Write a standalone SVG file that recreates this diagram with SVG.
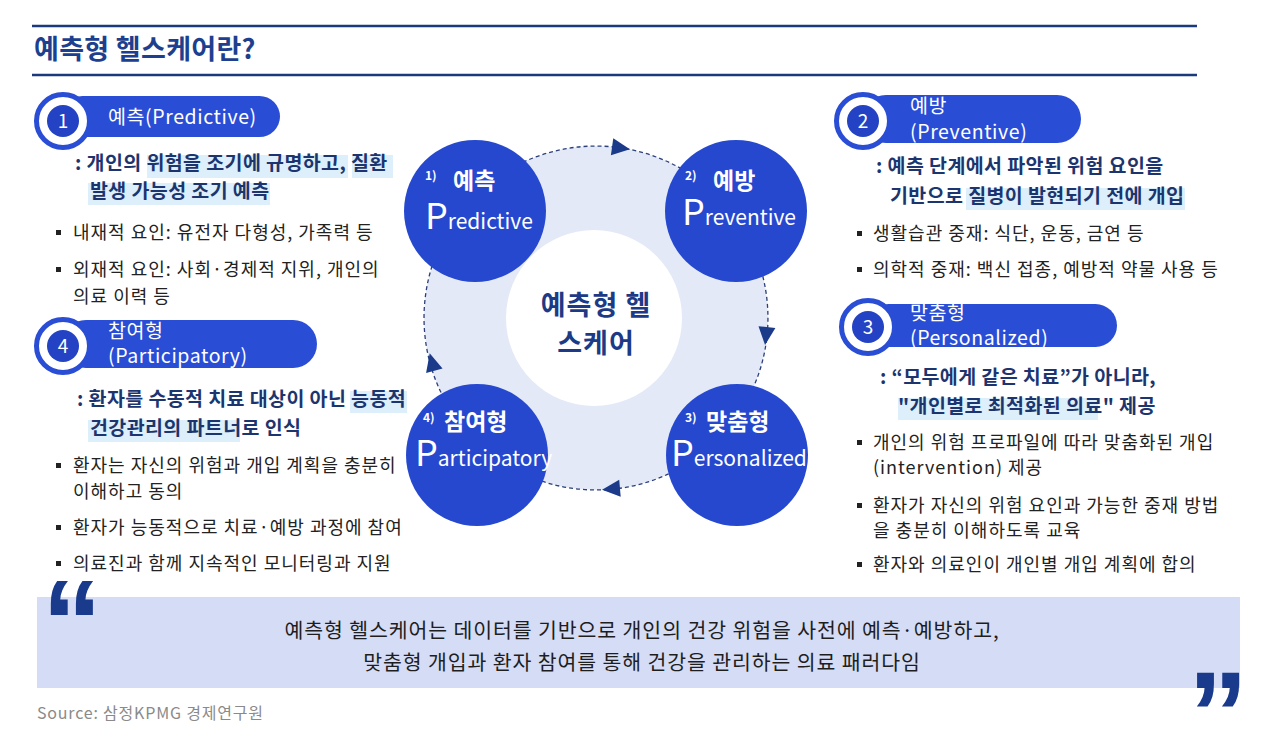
<svg xmlns="http://www.w3.org/2000/svg" width="1280" height="736" viewBox="0 0 1280 736">
<style>
text{font-family:"Noto Sans CJK KR","Noto Sans",sans-serif}
.title{font-size:27px;font-weight:700;fill:#1d3f8f;letter-spacing:0.3px}
.rule{stroke:#1b3a7c;stroke-width:2.5}
.pill{fill:#2a4dd5}
.ring{fill:#fff;stroke:#2a4dd5;stroke-width:5}
.disk{fill:#2343c4}
.num{font-size:19px;fill:#fff;text-anchor:middle}
.ptxt{font-size:19.5px;fill:#fff;letter-spacing:0.6px}
.desc{font-size:19.5px;font-weight:700;fill:#1c356e;letter-spacing:0.4px}
.hl{fill:#dceffa}
.bul{font-size:18px;fill:#222;letter-spacing:1px}
.sq{fill:#222}
.big{fill:#2548cf}
.ck{font-weight:700;fill:#fff}
.ctr{font-size:27px;font-weight:700;fill:#1c3a85;text-anchor:middle;letter-spacing:1px}
.dash{fill:none;stroke:#2b3f7a;stroke-width:1.3;stroke-dasharray:4 3}
.ah{fill:#1b3a8a}
.qt{font-size:20.5px;fill:#1e1e1e;text-anchor:middle;letter-spacing:0.9px}
.qm{font-family:"Liberation Sans",Arial,sans-serif;font-size:120px;font-weight:700;fill:#1a3a8c}
</style>

<!-- header -->
<line class="rule" x1="32" y1="26" x2="1197" y2="26"/>
<text class="title" x="34" y="59">예측형 헬스케어란?</text>
<line class="rule" x1="32" y1="75" x2="1197" y2="75"/>

<!-- background ring of the cycle -->
<circle cx="596" cy="318" r="172" fill="#e4e9f8"/>

<!-- connectors -->
<g id="connectors">
  <path class="dash" d="M467.2,204 A172,172 0 0 1 732.6,213.6"/>
  <path class="dash" d="M732.6,213.6 A172,172 0 0 1 719.7,437.5"/>
  <path class="dash" d="M719.7,437.5 A172,172 0 0 1 483.2,447.8"/>
  <path class="dash" d="M483.2,447.8 A172,172 0 0 1 467.2,204"/>
  <polygon class="ah" points="9,0 -9,-8.5 -9,8.5" transform="translate(621,148) rotate(8)"/>
  <polygon class="ah" points="9,0 -9,-8.5 -9,8.5" transform="translate(766,336) rotate(96)"/>
  <polygon class="ah" points="9,0 -9,-8.5 -9,8.5" transform="translate(611,489) rotate(175)"/>
  <polygon class="ah" points="9,0 -9,-8.5 -9,8.5" transform="translate(432,362) rotate(255)"/>
</g>

<!-- center -->
<g id="center">
  <circle cx="594" cy="318" r="88" fill="#fff"/>
  <text class="ctr" x="596" y="315">예측형 헬</text>
  <text class="ctr" x="596" y="353">스케어</text>
</g>

<g id="c1">
  <circle class="big" cx="475" cy="211" r="71"/>
  <text class="ck" x="425" y="180" font-size="12" font-weight="400">1)</text>
  <text class="ck" x="453" y="189" font-size="23">예측</text>
  <text x="425" y="229" fill="#fff"><tspan font-size="36">P</tspan><tspan font-size="21">redictive</tspan></text>
</g>
<g id="c2">
  <circle class="big" cx="736" cy="211" r="71"/>
  <text class="ck" x="685" y="180" font-size="12" font-weight="400">2)</text>
  <text class="ck" x="713" y="189" font-size="23">예방</text>
  <text x="682" y="225" fill="#fff"><tspan font-size="36">P</tspan><tspan font-size="21">reventive</tspan></text>
</g>
<g id="c3">
  <circle class="big" cx="737" cy="455" r="71"/>
  <text class="ck" x="685" y="422" font-size="12" font-weight="400">3)</text>
  <text class="ck" x="706" y="430" font-size="23">맞춤형</text>
  <text x="671" y="466" fill="#fff"><tspan font-size="36">P</tspan><tspan font-size="21">ersonalized</tspan></text>
</g>
<g id="c4">
  <circle class="big" cx="477" cy="455" r="71"/>
  <text class="ck" x="423" y="422" font-size="12" font-weight="400">4)</text>
  <text class="ck" x="444" y="430" font-size="23">참여형</text>
  <text x="415" y="466" fill="#fff"><tspan font-size="36">P</tspan><tspan font-size="21">articipatory</tspan></text>
</g>

<!-- 1 Predictive -->
<g id="p1">
  <rect class="pill" x="62" y="96" width="218" height="41" rx="20.5"/>
  <circle class="ring" cx="63" cy="121" r="26.5"/>
  <circle class="disk" cx="63" cy="121" r="16"/>
  <text class="num" x="63" y="127.5">1</text>
  <text class="ptxt" x="108" y="124">예측(Predictive)</text>
  <rect class="hl" x="147" y="155" width="201" height="23"/>
  <rect class="hl" x="352" y="155" width="41" height="23"/>
  <rect class="hl" x="88" y="183" width="182" height="22"/>
  <text class="desc" x="75" y="170">: 개인의 위험을 조기에 규명하고, 질환</text>
  <text class="desc" x="90" y="198">발생 가능성 조기 예측</text>
  <rect class="sq" x="56" y="230" width="5" height="5"/>
  <text class="bul" x="73" y="239">내재적 요인: 유전자 다형성, 가족력 등</text>
  <rect class="sq" x="56" y="267" width="5" height="5"/>
  <text class="bul" x="73" y="276">외재적 요인: 사회·경제적 지위, 개인의</text>
  <text class="bul" x="73" y="303">의료 이력 등</text>
</g>

<!-- 4 Participatory -->
<g id="p4">
  <rect class="pill" x="62" y="320" width="255" height="48" rx="24"/>
  <circle class="ring" cx="63" cy="346" r="26.5"/>
  <circle class="disk" cx="63" cy="346" r="16"/>
  <text class="num" x="63" y="352.5">4</text>
  <text class="ptxt" x="108" y="338">참여형</text>
  <text class="ptxt" x="108" y="363">(Participatory)</text>
  <rect class="hl" x="350" y="391" width="57" height="22"/>
  <rect class="hl" x="88" y="420" width="152" height="22"/>
  <text class="desc" x="77" y="406">: 환자를 수동적 치료 대상이 아닌 능동적</text>
  <text class="desc" x="90" y="435">건강관리의 파트너로 인식</text>
  <rect class="sq" x="56" y="463" width="5" height="5"/>
  <text class="bul" x="73" y="472">환자는 자신의 위험과 개입 계획을 충분히</text>
  <text class="bul" x="73" y="498">이해하고 동의</text>
  <rect class="sq" x="56" y="525" width="5" height="5"/>
  <text class="bul" x="73" y="534">환자가 능동적으로 치료·예방 과정에 참여</text>
  <rect class="sq" x="56" y="561" width="5" height="5"/>
  <text class="bul" x="73" y="570">의료진과 함께 지속적인 모니터링과 지원</text>
</g>

<!-- 2 Preventive -->
<g id="p2">
  <rect class="pill" x="862" y="95" width="219" height="48" rx="24"/>
  <circle class="ring" cx="863" cy="121" r="26.5"/>
  <circle class="disk" cx="863" cy="121" r="16"/>
  <text class="num" x="863" y="127.5">2</text>
  <text class="ptxt" x="910" y="113">예방</text>
  <text class="ptxt" x="910" y="139">(Preventive)</text>
  <rect class="hl" x="966" y="188" width="219" height="22"/>
  <text class="desc" x="876" y="173">: 예측 단계에서 파악된 위험 요인을</text>
  <text class="desc" x="890" y="203">기반으로 질병이 발현되기 전에 개입</text>
  <rect class="sq" x="857" y="231" width="5" height="5"/>
  <text class="bul" x="873" y="240">생활습관 중재: 식단, 운동, 금연 등</text>
  <rect class="sq" x="857" y="267" width="5" height="5"/>
  <text class="bul" x="873" y="276">의학적 중재: 백신 접종, 예방적 약물 사용 등</text>
</g>

<!-- 3 Personalized -->
<g id="p3">
  <rect class="pill" x="867" y="304" width="250" height="43" rx="21.5"/>
  <circle class="ring" cx="868" cy="327" r="26.5"/>
  <circle class="disk" cx="868" cy="327" r="16"/>
  <text class="num" x="868" y="333.5">3</text>
  <text class="ptxt" x="910" y="320">맞춤형</text>
  <text class="ptxt" x="910" y="345">(Personalized)</text>
  <rect class="hl" x="898" y="398" width="200" height="22"/>
  <text class="desc" x="880" y="384">: “모두에게 같은 치료”가 아니라,</text>
  <text class="desc" x="898" y="413">"개인별로 최적화된 의료" 제공</text>
  <rect class="sq" x="857" y="440" width="5" height="5"/>
  <text class="bul" x="873" y="449">개인의 위험 프로파일에 따라 맞춤화된 개입</text>
  <text class="bul" x="873" y="474">(intervention) 제공</text>
  <rect class="sq" x="857" y="503" width="5" height="5"/>
  <text class="bul" x="873" y="512">환자가 자신의 위험 요인과 가능한 중재 방법</text>
  <text class="bul" x="873" y="537">을 충분히 이해하도록 교육</text>
  <rect class="sq" x="857" y="562" width="5" height="5"/>
  <text class="bul" x="873" y="571">환자와 의료인이 개인별 개입 계획에 합의</text>
</g>

<!-- quote box -->
<g id="quote">
  <rect x="37" y="597" width="1203" height="91" fill="#d5dcf5"/>
  <text class="qm" x="42" y="664">“</text>
  <text class="qm" x="1188" y="756">”</text>
  <text class="qt" x="642" y="638">예측형 헬스케어는 데이터를 기반으로 개인의 건강 위험을 사전에 예측·예방하고,</text>
  <text class="qt" x="642" y="670">맞춤형 개입과 환자 참여를 통해 건강을 관리하는 의료 패러다임</text>
</g>

<text x="37" y="719" font-size="16" fill="#8a8a8a" letter-spacing="0.8">Source: 삼정KPMG 경제연구원</text>
</svg>
